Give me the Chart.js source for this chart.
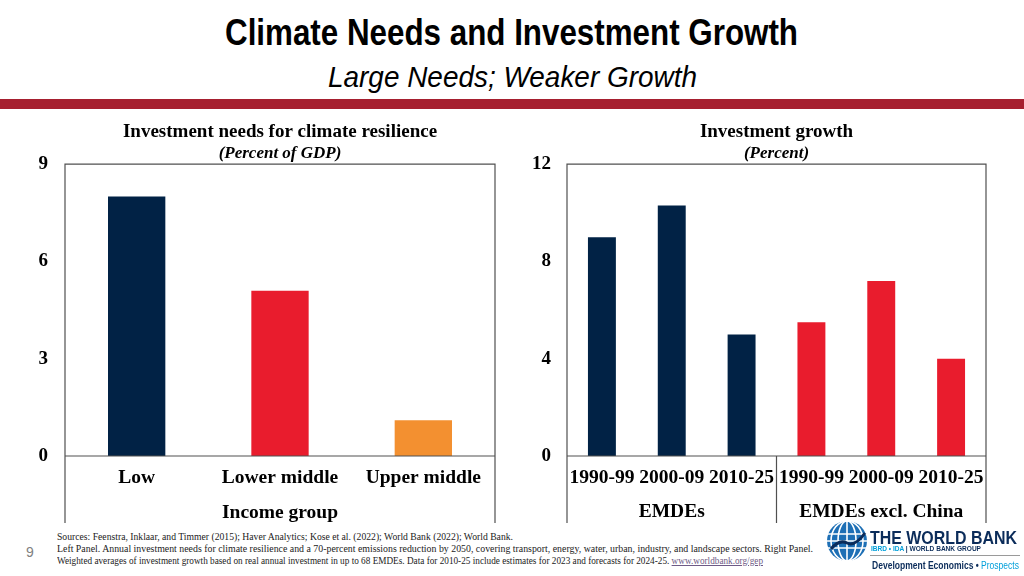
<!DOCTYPE html>
<html>
<head>
<meta charset="utf-8">
<title>Climate Needs and Investment Growth</title>
<script src="https://cdn.jsdelivr.net/npm/chart.js@4.4.1/dist/chart.umd.min.js"></script>
<style>
    body {
        margin: 0;
        width: 1024px;
        height: 576px;
        overflow: hidden;
        background: #fff;
        position: relative;
        font-family: "Liberation Sans", Arial, sans-serif;
    }
    .fit {
        position: absolute;
        white-space: nowrap;
        transform-origin: 0 0;
        display: inline-block;
    }
    #mainTitle {
        left: 225px;
        top: 15px;
        font: bold 36px/36px "Liberation Sans Narrow", "Arial Narrow", "Liberation Sans", sans-serif;
        color: #000;
    }
    #subTitle {
        left: 328px;
        top: 62px;
        font: italic 30px/30px "Liberation Sans Narrow", "Arial Narrow", "Liberation Sans", sans-serif;
        color: #000;
    }
    #redBar {
        position: absolute;
        left: 0;
        top: 99px;
        width: 1024px;
        height: 10px;
        background: #a61f2f;
    }
    canvas {
        position: absolute;
    }
    #needsChart { left: 0; top: 118px; }
    #growthChart { left: 520px; top: 118px; }
    .note {
        left: 57px;
        font: 11px/11px "Liberation Serif", "Times New Roman", serif;
        color: #222;
    }
    .note a { color: #6e5a86; text-decoration: underline; }
    #pageNo {
        position: absolute;
        left: 26px;
        top: 545px;
        font: 14px/14px "Liberation Sans", Arial, sans-serif;
        color: #808080;
    }
    #logo {
        position: absolute;
        left: 825px;
        top: 519px;
    }
    #wbName {
        left: 870px;
        top: 528px;
        font: bold 19px/19px "Liberation Sans", Arial, sans-serif;
        color: #0b2c5a;
    }
    #wbGroup {
        left: 871px;
        top: 545px;
        font: bold 8px/8px "Liberation Sans", Arial, sans-serif;
        color: #0b2c5a;
    }
    #wbGroup span { color: #009fda; }
    #wbRule {
        position: absolute;
        left: 870px;
        top: 555px;
        width: 150px;
        height: 1px;
        background: #9a9a9a;
    }
    #wbDec {
        left: 872px;
        top: 561px;
        font: bold 10px/10px "Liberation Sans", Arial, sans-serif;
        color: #0b2c5a;
    }
    #wbDec span { color: #009fda; font-weight: normal; }
</style>
</head>
<body>

<div id="mainTitle" class="fit" data-w="573">Climate Needs and Investment Growth</div>
<div id="subTitle" class="fit" data-w="369">Large Needs; Weaker Growth</div>
<div id="redBar"></div>

<canvas id="needsChart" width="520" height="407"></canvas>
<canvas id="growthChart" width="504" height="407"></canvas>

<div id="pageNo">9</div>
<div class="fit note" style="top:531px" data-w="456">Sources: Feenstra, Inklaar, and Timmer (2015); Haver Analytics; Kose et al. (2022); World Bank (2022); World Bank.</div>
<div class="fit note" style="top:543px" data-w="756">Left Panel. Annual investment needs for climate resilience and a 70-percent emissions reduction by 2050, covering transport, energy, water, urban, industry, and landscape sectors. Right Panel.</div>
<div class="fit note" style="top:555px" data-w="706">Weighted averages of investment growth based on real annual investment in up to 68 EMDEs. Data for 2010-25 include estimates for 2023 and forecasts for 2024-25. <a>www.worldbank.org/gep</a></div>

<svg id="logo" width="44" height="44" viewBox="0 0 44 44">
    <circle cx="22" cy="22" r="20" fill="#1d6fb5"/>
    <g fill="none" stroke="#fff" stroke-width="1.6">
        <ellipse cx="22" cy="22" rx="9" ry="20"/>
        <ellipse cx="22" cy="22" rx="16" ry="20"/>
        <line x1="22" y1="2" x2="22" y2="42"/>
        <line x1="3" y1="15" x2="41" y2="15"/>
        <line x1="2" y1="22" x2="42" y2="22"/>
        <line x1="3" y1="29" x2="41" y2="29"/>
    </g>
    <path d="M6 30 Q14 20 22 24 T40 14" fill="none" stroke="#0b2c5a" stroke-width="3"/>
</svg>
<div id="wbName" class="fit" data-w="147">THE WORLD BANK</div>
<div id="wbGroup" class="fit" data-w="110"><span>IBRD • IDA</span> | WORLD BANK GROUP</div>
<div id="wbRule"></div>
<div id="wbDec" class="fit" data-w="147">Development Economics • <span>Prospects</span></div>

<script>
// ==========================
// Data
// ==========================

const needsLabels = ["Low", "Lower middle", "Upper middle"];
const needsValues = [8.0, 5.1, 1.1];
const needsTicks = [0, 3, 6, 9];

const growthPeriods = ["1990-99", "2000-09", "2010-25", "1990-99", "2000-09", "2010-25"];
const growthGroups = ["EMDEs", "EMDEs excl. China"];
const growthValues = [9.0, 10.3, 5.0, 5.5, 7.2, 4.0];
const growthTicks = [0, 4, 8, 12];

// ==========================
// Colours & fonts
// ==========================

const NAVY = "#012245";
const RED = "#e91c2d";
const ORANGE = "#f39030";

const needsColors = [NAVY, RED, ORANGE];
const growthColors = [NAVY, NAVY, NAVY, RED, RED, RED];

const serif = "'Liberation Serif', 'Times New Roman', serif";
const boldFont = size => ({ family: serif, size: size, weight: "bold" });

// ==========================
// Frame plugin (box, zero line, group divider)
// ==========================

const framePlugin = {
    id: "frame",
    afterDatasetsDraw(chart, args, opts) {
        const { ctx, chartArea: a, scales } = chart;
        const y0 = scales.y.getPixelForValue(0);
        const bottom = chart.height - 2;

        ctx.save();
        ctx.strokeStyle = "#505050";
        ctx.lineWidth = 1.2;
        ctx.beginPath();
        ctx.moveTo(a.left, bottom);
        ctx.lineTo(a.left, a.top);
        ctx.lineTo(a.right, a.top);
        ctx.lineTo(a.right, bottom);
        ctx.moveTo(a.left, y0);
        ctx.lineTo(a.right, y0);
        (opts.dividers || []).forEach(i => {
            const x = scales.x.getPixelForValue(i);
            ctx.moveTo(x, y0);
            ctx.lineTo(x, bottom);
        });
        ctx.stroke();
        ctx.restore();
    }
};

// ==========================
// Shared pieces
// ==========================

function valueAxis(ticks, width, pad) {
    return {
        min: ticks[0],
        max: ticks[ticks.length - 1],
        afterBuildTicks: s => { s.ticks = ticks.map(v => ({ value: v })); },
        afterFit: s => { s.width = width; },
        grid: { display: false, drawTicks: false },
        border: { display: false },
        ticks: { padding: pad, color: "#000", font: boldFont(19) }
    };
}

function titles(text, sub) {
    return {
        legend: { display: false },
        tooltip: { enabled: false },
        title: {
            display: true, fullSize: false, text: text, color: "#000",
            font: boldFont(19), padding: { top: 3, bottom: 0 }
        },
        subtitle: {
            display: true, fullSize: false, text: sub, color: "#000",
            font: { family: serif, size: 17, weight: "bold", style: "italic" },
            padding: { top: 0, bottom: 0 }
        }
    };
}

// ==========================
// Left: investment needs
// ==========================

new Chart(document.getElementById("needsChart"), {
    type: "bar",
    data: {
        labels: needsLabels,
        datasets: [{
            data: needsValues,
            backgroundColor: needsColors,
            barPercentage: 0.4,
            categoryPercentage: 1
        }]
    },
    options: {
        responsive: false,
        animation: false,
        layout: { padding: { right: 25 } },
        plugins: Object.assign(titles("Investment needs for climate resilience", "(Percent of GDP)"), {
            frame: { dividers: [] }
        }),
        scales: {
            x: {
                afterFit: s => { s.height = 69; },
                grid: { display: false, drawTicks: false },
                border: { display: false },
                ticks: { padding: 10, color: "#000", font: boldFont(19.5) },
                title: {
                    display: true, text: "Income group", color: "#000",
                    font: boldFont(19.5), padding: { top: 6, bottom: 0 }
                }
            },
            y: valueAxis(needsTicks, 65, 17)
        }
    },
    plugins: [framePlugin]
});

// ==========================
// Right: investment growth
// ==========================

new Chart(document.getElementById("growthChart"), {
    type: "bar",
    data: {
        labels: growthPeriods,
        datasets: [{
            data: growthValues,
            backgroundColor: growthColors,
            barPercentage: 0.4,
            categoryPercentage: 1
        }]
    },
    options: {
        responsive: false,
        animation: false,
        layout: { padding: { right: 38 } },
        plugins: Object.assign(titles("Investment growth", "(Percent)"), {
            frame: { dividers: [2.5] }
        }),
        scales: {
            x: {
                weight: 0,
                afterFit: s => { s.height = 36; },
                grid: { display: false, drawTicks: false },
                border: { display: false },
                ticks: { padding: 10, color: "#000", font: boldFont(19.5), autoSkip: false, maxRotation: 0 }
            },
            x2: {
                type: "category",
                position: "bottom",
                weight: 1,
                labels: growthGroups,
                offset: true,
                afterFit: s => { s.height = 33; },
                grid: { display: false, drawTicks: false },
                border: { display: false },
                ticks: { padding: 8, color: "#000", font: boldFont(19.5), autoSkip: false, maxRotation: 0 }
            },
            y: valueAxis(growthTicks, 47, 16)
        }
    },
    plugins: [framePlugin]
});

// ==========================
// Fit header / footer text to their widths
// ==========================

document.querySelectorAll("[data-w]").forEach(el => {
    const w = el.getBoundingClientRect().width;
    el.style.transform = "scaleX(" + (Number(el.dataset.w) / w) + ")";
});
</script>
</body>
</html>
